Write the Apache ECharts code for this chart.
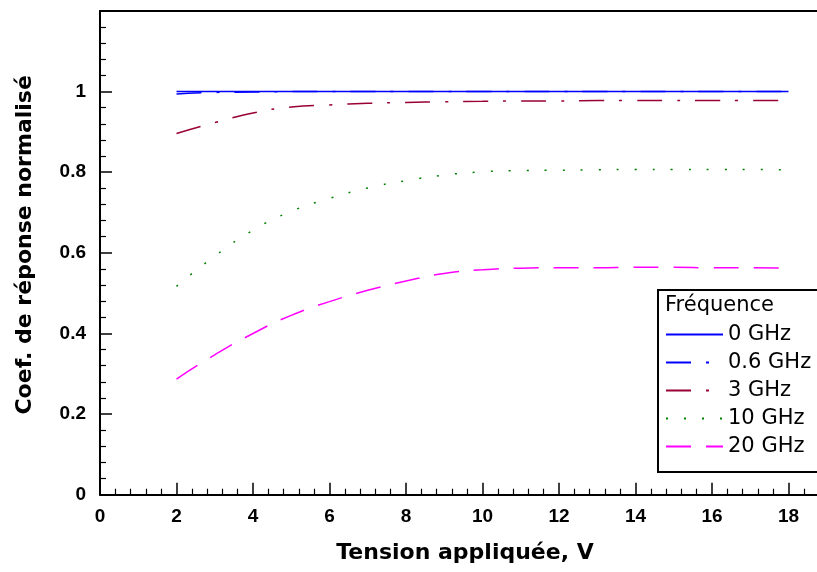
<!DOCTYPE html>
<html><head><meta charset="utf-8">
<script src="https://cdn.jsdelivr.net/npm/echarts@6/dist/echarts.min.js"></script>
<style>html,body{margin:0;padding:0;background:#fff}#c{width:817px;height:572px}</style>
</head><body><div id="c"></div>
<script>
const xVals = [2,3,4,5,6,7,8,9,10,11,12,13,14,15,16,17,18];
const f0 = [1,1,1,1,1,1,1,1,1,1,1,1,1,1,1,1,1];
const f06 = [0.994,0.998,0.999,1,1,1,1,1,1,1,1,1,1,1,1,1,1];
const f3 = [0.896,0.923,0.947,0.962,0.967,0.971,0.973,0.975,0.976,0.977,0.977,0.978,0.978,0.978,0.978,0.978,0.978];
const f10 = [0.517,0.592,0.656,0.703,0.735,0.761,0.779,0.793,0.801,0.804,0.805,0.806,0.807,0.807,0.807,0.807,0.806];
const f20 = [0.287,0.347,0.400,0.445,0.479,0.507,0.530,0.549,0.558,0.562,0.563,0.563,0.564,0.564,0.563,0.563,0.562];
const seriesNames = ['0 GHz','0.6 GHz','3 GHz','10 GHz','20 GHz'];
const xTicks = [0,2,4,6,8,10,12,14,16,18];
const yTicks = [0,0.2,0.4,0.6,0.8,1];

const FONT = '"Liberation Sans", Arial, sans-serif';
const WFONT = '"DejaVu Sans", sans-serif';
const pairs = v => xVals.map((x,i)=>[x,v[i]]);
const styles = [
  {color:'#0000ff', type:'solid', z:6},
  {color:'#0000ff', type:[25,15,3,15], z:5},
  {color:'#990033', type:[25,15,3,15], z:4},
  {color:'#008000', type:[2,16], z:3},
  {color:'#ff00ff', type:[25,15], z:3}
];
const dataSets = [f0,f06,f3,f10,f20];
const chart = echarts.init(document.getElementById('c'), null, {renderer:'canvas'});
chart.setOption({
  animation:false,
  grid:{left:100, top:11, width:765, height:483.7, show:false,
    containLabel:false, outerBoundsMode:'none'},
  xAxis:[{type:'value', min:0, max:20, interval:2,
    axisLine:{lineStyle:{color:'#000', width:2}},
    axisTick:{inside:true, length:12, lineStyle:{color:'#000', width:1.5}},
    minorTick:{show:true, splitNumber:5, length:6, lineStyle:{color:'#000', width:1.2}},
    splitLine:{show:false},
    axisLabel:{color:'#000', fontSize:19, fontWeight:'bold', fontFamily:FONT, margin:13,
      formatter:v=> xTicks.includes(v) ? String(v) : ''},
    name:'Tension appliquée, V', nameLocation:'middle', nameGap:48,
    nameTextStyle:{color:'#000', fontSize:22, fontWeight:'bold', fontFamily:WFONT, padding:[0,35,0,0]}
  },{type:'value', position:'top', min:0, max:20,
    axisLine:{show:true, onZero:false, lineStyle:{color:'#000', width:2}},
    axisTick:{show:false}, axisLabel:{show:false}, splitLine:{show:false}
  }],
  yAxis:{type:'value', min:0, max:1.2, interval:0.2,
    axisLine:{lineStyle:{color:'#000', width:2}},
    axisTick:{inside:true, length:12, lineStyle:{color:'#000', width:1.5}},
    minorTick:{show:true, splitNumber:5, length:6, lineStyle:{color:'#000', width:1.2}},
    splitLine:{show:false},
    axisLabel:{color:'#000', fontSize:19, fontWeight:'bold', fontFamily:FONT, margin:14,
      formatter:v=>{ const r=Math.round(v*10)/10; return yTicks.includes(r) ? String(r) : ''; }},
    name:'Coef. de réponse normalisé', nameLocation:'middle', nameGap:64, nameRotate:90,
    nameTextStyle:{color:'#000', fontSize:22, fontWeight:'bold', fontFamily:WFONT, padding:[0,0,0,16]}
  },
  legend:{orient:'vertical', left:665, top:324, padding:0, itemWidth:57, itemHeight:14, itemGap:7,
    itemStyle:{opacity:0},
    data:seriesNames, textStyle:{color:'#000', fontSize:21, lineHeight:21, fontFamily:WFONT}, z:10},
  graphic:[
    {type:'rect', left:657, top:289, shape:{width:200, height:182}, style:{fill:'#fff', stroke:'#000', lineWidth:2}, z:5},
    {type:'text', left:665, top:295, style:{text:'Fréquence', fill:'#000', font:'21px '+WFONT}, z:11}
  ],
  series: seriesNames.map((n,i)=>({
    name:n, type:'line', data:pairs(dataSets[i]), symbol:'none', smooth:true, z:styles[i].z,
    color:styles[i].color,
    lineStyle:{color:styles[i].color, width:1.5, type:styles[i].type}
  }))
});
</script></body></html>
